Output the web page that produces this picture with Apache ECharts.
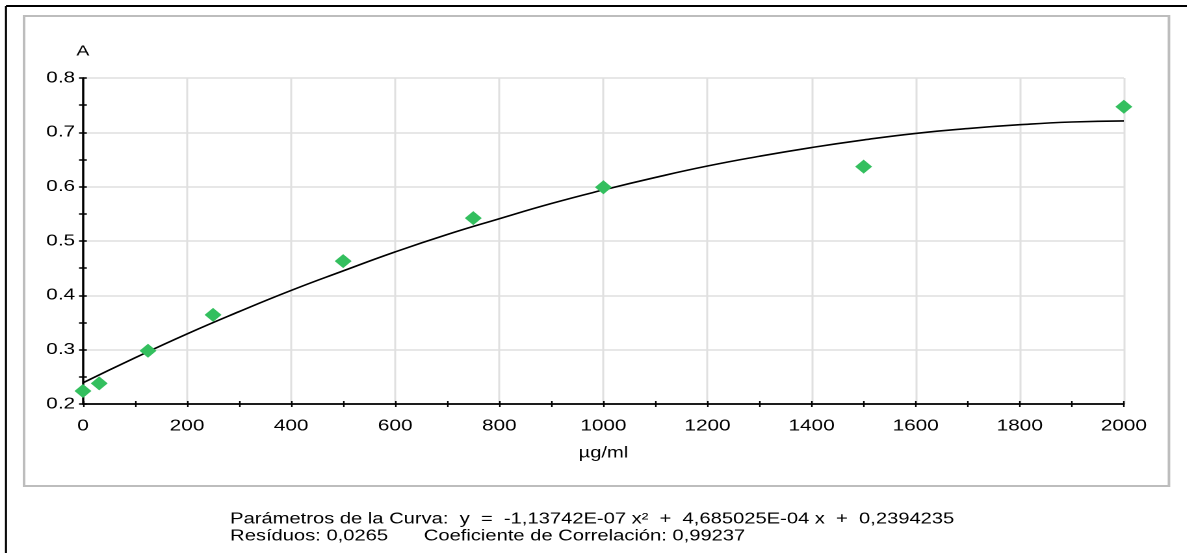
<!DOCTYPE html>
<html>
<head>
<meta charset="utf-8">
<script src="https://cdn.jsdelivr.net/npm/echarts@6/dist/echarts.min.js"></script>
<style>
  html, body { margin: 0; padding: 0; background: #fff; overflow: hidden; }
  /* the source picture is stretched sideways, so draw narrow and widen it */
  #chart { width: 913px; height: 553px; transform: scaleX(1.3); transform-origin: 0 0; }
</style>
</head>
<body>
<div id="chart"></div>
<script>
// standard points (µg/ml vs absorbance)
const concentrations = [0, 31.25, 125, 250, 500, 750, 1000, 1500, 2000];
const absorbances = [0.224, 0.238, 0.298, 0.364, 0.463, 0.542, 0.599, 0.637, 0.747];

// fitted curve, every 100 µg/ml
const curveX = [0, 100, 200, 300, 400, 500, 600, 700, 800, 900, 1000,
  1100, 1200, 1300, 1400, 1500, 1600, 1700, 1800, 1900, 2000];
const curveY = [0.239, 0.285, 0.329, 0.370, 0.409, 0.445, 0.480, 0.512, 0.541, 0.569, 0.594,
  0.617, 0.638, 0.656, 0.672, 0.686, 0.698, 0.707, 0.714, 0.719, 0.721];

const xTicks = [0, 200, 400, 600, 800, 1000, 1200, 1400, 1600, 1800, 2000];
const yTicks = [0.2, 0.3, 0.4, 0.5, 0.6, 0.7, 0.8];

const curveText = 'Parámetros de la Curva:  y  =  -1,13742E-07 x²  +  4,685025E-04 x  +  0,2394235';
const residText = 'Resíduos: 0,0265';
const corrText = 'Coeficiente de Correlación: 0,99237';

const FONT = '"Liberation Sans", Arial, sans-serif';

const baseX = {
  type: 'value',
  min: xTicks[0],
  max: xTicks[xTicks.length - 1],
  interval: 200,
  axisLine: { show: true, onZero: false, lineStyle: { color: '#000', width: 1.5 } },
  minorTick: { show: true, splitNumber: 2, length: 3, lineStyle: { color: '#000', width: 1.2 } },
  axisTick: { show: true, length: 3, lineStyle: { color: '#000', width: 1.2 } }
};
const baseY = {
  type: 'value',
  min: yTicks[0],
  max: yTicks[yTicks.length - 1],
  interval: 0.1,
  axisLine: { show: true, onZero: false, lineStyle: { color: '#000', width: 1.5 } },
  minorTick: { show: true, splitNumber: 2, length: 3, lineStyle: { color: '#000', width: 1.5 } },
  axisTick: { show: true, length: 3, lineStyle: { color: '#000', width: 1.5 } }
};

const option = {
  animation: false,
  backgroundColor: '#fff',
  textStyle: { fontFamily: FONT },
  grid: { left: 63.8, right: 48.5, top: 78, bottom: 149 },
  xAxis: [
    {
      ...baseX,
      name: 'µg/ml',
      nameLocation: 'middle',
      nameGap: 41,
      nameTextStyle: { color: '#000', fontSize: 15.5, fontFamily: FONT },
      axisLabel: { color: '#000', fontSize: 16, margin: 14, fontFamily: FONT,
        formatter: (v) => String(v) },
      splitLine: { show: true, lineStyle: { color: '#e0e0e0', width: 1.5 } }
    },
    {
      ...baseX,
      position: 'bottom',
      axisTick: { ...baseX.axisTick, inside: true },
      minorTick: { ...baseX.minorTick },
      axisLabel: { show: false },
      splitLine: { show: false }
    }
  ],
  yAxis: [
    {
      ...baseY,
      name: 'A',
      nameLocation: 'end',
      nameGap: 19,
      nameTextStyle: { color: '#000', fontSize: 15, fontFamily: FONT, align: 'center' },
      axisLabel: { color: '#000', fontSize: 16, margin: 6, fontFamily: FONT,
        formatter: (v) => v.toFixed(1) },
      splitLine: { show: true, lineStyle: { color: '#e0e0e0', width: 1.5 } }
    },
    {
      ...baseY,
      position: 'left',
      axisTick: { ...baseY.axisTick, inside: true },
      axisLabel: { show: false },
      splitLine: { show: false }
    }
  ],
  series: [
    {
      name: 'curve',
      type: 'line',
      data: curveX.map((x, i) => [x, curveY[i]]),
      smooth: true,
      showSymbol: false,
      lineStyle: { color: '#000', width: 1.6 },
      z: 3
    },
    {
      name: 'points',
      type: 'scatter',
      data: concentrations.map((x, i) => [x, absorbances[i]]),
      symbol: 'diamond',
      symbolSize: [13, 14],
      itemStyle: { color: '#33bf5e', opacity: 1 },
      z: 4
    }
  ],
  graphic: [
    { type: 'line', shape: { x1: 4.6, y1: 6, x2: 913, y2: 6 }, style: { stroke: '#000', lineWidth: 2 } },
    { type: 'line', shape: { x1: 4.6, y1: 6, x2: 4.6, y2: 553 }, style: { stroke: '#000', lineWidth: 1.6 } },
    { type: 'rect', shape: { x: 18.5, y: 16, width: 880.7, height: 470 },
      style: { fill: 'none', stroke: '#bdbdbd', lineWidth: 2 }, z: -1 },
    { type: 'text', left: 177, top: 511, style: { text: curveText, font: '15.5px ' + FONT, fill: '#000' } },
    { type: 'text', left: 177, top: 528, style: { text: residText, font: '15.5px ' + FONT, fill: '#000' } },
    { type: 'text', left: 326, top: 528, style: { text: corrText, font: '15.5px ' + FONT, fill: '#000' } }
  ]
};

const chart = echarts.init(document.getElementById('chart'), null, { devicePixelRatio: 2 });
chart.setOption(option);
</script>
</body>
</html>
